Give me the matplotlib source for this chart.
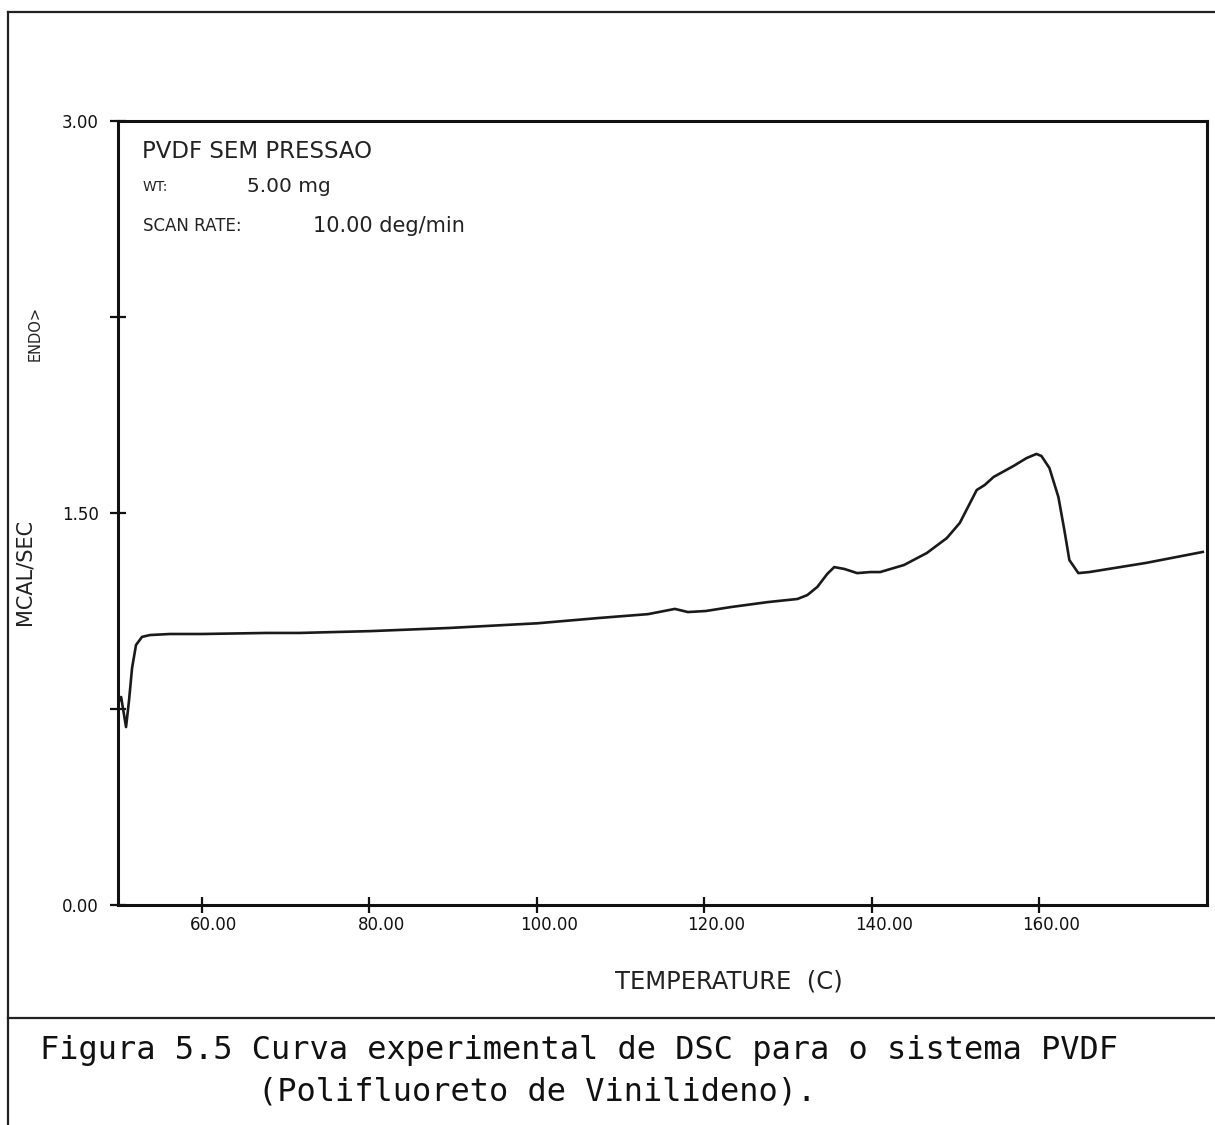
import matplotlib
matplotlib.use('Agg')
import matplotlib.pyplot as plt
from matplotlib.lines import Line2D
from matplotlib.transforms import ScaledTranslation

# DSC trace, PVDF without pressure (temperature in C, heat flow in mcal/s)
temperature = [50.01, 50.37, 50.96, 51.32, 51.68, 52.15, 52.87, 53.82, 56.20,
               60.00, 67.73, 71.65, 80.10, 89.49, 100.07, 107.32, 113.27,
               116.48, 118.03, 120.17, 123.14, 127.54, 131.11, 132.29, 133.48,
               134.67, 135.50, 136.69, 138.24, 139.79, 140.98, 143.83, 146.56,
               148.94, 150.49, 152.51, 153.46, 154.53, 156.91, 158.45, 159.64,
               160.24, 161.19, 162.26, 162.97, 163.57, 164.64, 165.95, 172.72,
               179.50]
heat_flow = [0.773, 0.796, 0.681, 0.784, 0.907, 0.995, 1.026, 1.033, 1.037,
             1.037, 1.041, 1.041, 1.048, 1.060, 1.078, 1.098, 1.113,
             1.133, 1.121, 1.125, 1.140, 1.159, 1.171, 1.186, 1.217,
             1.267, 1.293, 1.286, 1.270, 1.274, 1.274, 1.301, 1.347,
             1.404, 1.462, 1.588, 1.607, 1.638, 1.680, 1.710, 1.726,
             1.718, 1.672, 1.561, 1.435, 1.320, 1.270, 1.274, 1.309,
             1.351]

x_ticks = [60, 80, 100, 120, 140, 160]
y_ticks = [0.0, 0.75, 1.5, 2.25, 3.0]
y_labels = ['0.00', '', '1.50', '', '3.00']

W, H = 1215, 1125
fig = plt.figure(figsize=(W / 100, H / 100), dpi=100)
fig.patch.set_facecolor('white')


def fx(px):
    return px / W


def fy(py):
    return 1 - py / H


ax = fig.add_axes([fx(118), fy(905), fx(1207) - fx(118), fy(121) - fy(905)])
ax.plot(temperature, heat_flow, color='#1a1a1a', lw=1.9, solid_joinstyle='round')
ax.set_xlim(50, 180)
ax.set_ylim(0, 3)

for s in ax.spines.values():
    s.set_linewidth(2.2)
    s.set_color('#111111')

ax.set_xticks(x_ticks)
ax.set_xticklabels([f'{t:.2f}' for t in x_ticks])
ax.set_yticks(y_ticks)
ax.set_yticklabels(y_labels)
ax.tick_params(axis='both', direction='inout', length=12, width=1.6,
               colors='#111111', labelsize=12, top=False, right=False)
ax.tick_params(axis='x', pad=2)
ax.tick_params(axis='y', pad=8)
shift = ScaledTranslation(12 / 100, 0, fig.dpi_scale_trans)
for lab in ax.get_xticklabels():
    lab.set_transform(lab.get_transform() + shift)

# header text inside the plot
fig.text(fx(142), fy(152), 'PVDF SEM PRESSAO', fontsize=16.5, va='center',
         color='#222222')
fig.text(fx(143), fy(187), 'WT:', fontsize=10, va='center', color='#222222')
fig.text(fx(247), fy(187), '5.00 mg', fontsize=14.5, va='center', color='#222222')
fig.text(fx(143), fy(226), 'SCAN RATE:', fontsize=12, va='center', color='#222222')
fig.text(fx(313), fy(226), '10.00 deg/min', fontsize=15, va='center',
         color='#222222')

# axis titles
fig.text(fx(25), fy(572), 'MCAL/SEC', fontsize=15, rotation=90,
         ha='center', va='center', color='#222222')
fig.text(fx(35), fy(333), 'ENDO>', fontsize=10.5, rotation=90,
         ha='center', va='center', color='#222222')
fig.text(fx(729), fy(982), 'TEMPERATURE  (C)', fontsize=17.5,
         ha='center', va='center', color='#222222')

# page frame and caption box
frame = dict(color='#222222', lw=1.6, transform=fig.transFigure)
fig.add_artist(Line2D([fx(8), 1], [fy(12), fy(12)], **frame))
fig.add_artist(Line2D([fx(8), fx(8)], [fy(12), 0], **frame))
fig.add_artist(Line2D([fx(8), 1], [fy(1018), fy(1018)], **frame))

fig.text(fx(40), fy(1050), 'Figura 5.5 Curva experimental de DSC para o sistema PVDF',
         fontsize=23, family='DejaVu Sans Mono', va='center', color='#111111')
fig.text(fx(258), fy(1092), '(Polifluoreto de Vinilideno).',
         fontsize=23, family='DejaVu Sans Mono', va='center', color='#111111')

fig.savefig('out.png', dpi=100, facecolor='white')
